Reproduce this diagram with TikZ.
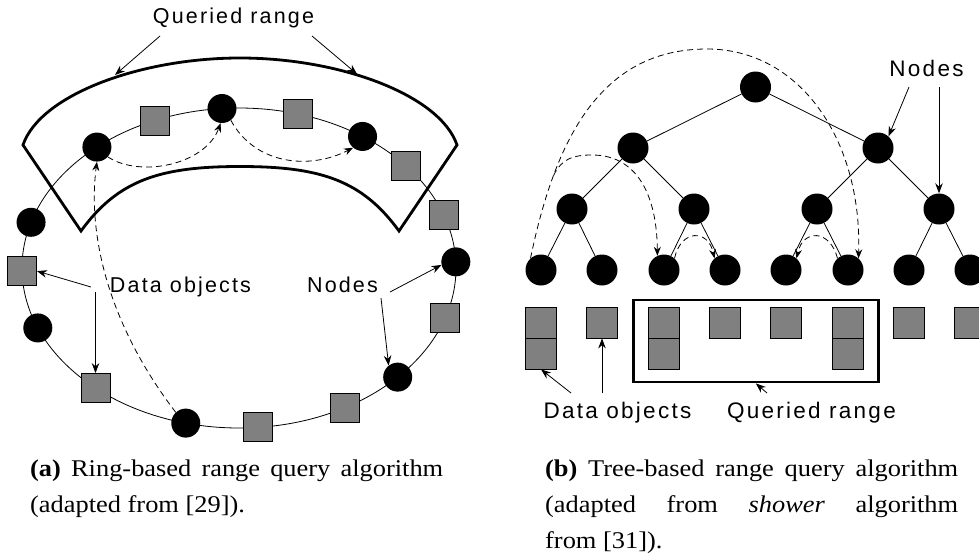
\documentclass[tikz,border=0pt]{standalone}
\usepackage{fontspec}
\usetikzlibrary{arrows.meta,calc}
\newfontfamily\lblfont[LetterSpace=10]{Liberation Sans}
\newfontfamily\capfont[FakeStretch=1.1]{Liberation Serif}
\definecolor{datagray}{HTML}{808080}

\begin{document}
\begin{tikzpicture}[x=1pt,y=-1pt,
  peerdot/.style={circle,fill=black,inner sep=0pt,minimum size=29pt},
  treedot/.style={peerdot,minimum size=31pt},
  databox/.style={rectangle,draw=black,line width=0.8pt,fill=datagray,inner sep=0pt,minimum size=29pt},
  treebox/.style={databox,minimum size=31pt},
  edgeline/.style={line width=0.8pt},
  callout/.style={line width=0.8pt,-{Stealth[length=10pt,width=7.5pt]}},
  hopline/.style={line width=0.8pt,dash pattern=on 6pt off 4pt,-{Stealth[length=9pt,width=7pt]}},
  rangeline/.style={line width=2.8pt,line join=miter},
  lbltext/.style={font=\lblfont\fontsize{21.5pt}{24pt}\selectfont,inner sep=0pt,anchor=base},
  treelbltext/.style={lbltext,font=\lblfont\fontsize{22.5pt}{25pt}\selectfont},
  captext/.style={font=\capfont\fontsize{24pt}{36pt}\selectfont,inner sep=0pt,anchor=base west},
]
\fill[white] (0,0) rectangle (979,557);
\useasboundingbox (0,0) rectangle (979,557);

% ---------------- (a) ring ----------------
\coordinate (rc) at (239,268);
\draw[edgeline] (rc) ellipse [x radius=217pt, y radius=160pt];

% queried range: band over the upper part of the ring
\coordinate (bo1) at (23,145);  \coordinate (bot) at (240,58);  \coordinate (bo2) at (457,145);
\coordinate (bi1) at (81,231);  \coordinate (bit) at (240,166.5); \coordinate (bi2) at (399,231);
\draw[rangeline] (bo1) .. controls (40,95) and (140,58) .. (bot)
  .. controls (340,58) and (440,95) .. (bo2)
  -- (bi2) .. controls (362,180) and (320,166.5) .. (bit)
  .. controls (160,166.5) and (118,180) .. (bi1) -- cycle;

% peers and data objects on the ring
\node[peerdot] (n1)  at ($(rc)+(94.5:217pt and 160pt)$) {};
\node[databox] (s2)  at ($(rc)+(112.8:217pt and 160pt)$) {};
\node[peerdot] (n3)  at ($(rc)+(130.9:217pt and 160pt)$) {};
\node[peerdot] (n4)  at ($(rc)+(163.4:217pt and 160pt)$) {};
\node[databox] (s5)  at ($(rc)+(181.1:217pt and 160pt)$) {};
\node[peerdot] (n6)  at ($(rc)+(-158:217pt and 160pt)$) {};
\node[databox] (s7)  at ($(rc)+(-131.4:217pt and 160pt)$) {};
\node[peerdot] (n8)  at ($(rc)+(-104.2:217pt and 160pt)$) {};
\node[databox] (s9)  at ($(rc)+(-85:217pt and 160pt)$) {};
\node[databox] (s10) at ($(rc)+(-60.8:217pt and 160pt)$) {};
\node[peerdot] (n11) at ($(rc)+(-43:217pt and 160pt)$) {};
\node[databox] (s12) at ($(rc)+(-18.2:217pt and 160pt)$) {};
\node[peerdot] (n13) at ($(rc)+(2.2:217pt and 160pt)$) {};
\node[databox] (s14) at ($(rc)+(19.4:217pt and 160pt)$) {};
\node[databox] (s15) at ($(rc)+(39.6:217pt and 160pt)$) {};
\node[peerdot] (n16) at ($(rc)+(55.3:217pt and 160pt)$) {};
\node[databox] (s17) at ($(rc)+(74.3:217pt and 160pt)$) {};

% query forwarding
\draw[hopline] (n8.133) .. controls (105,320) and (88,230) .. (n3.-90);
\draw[hopline] (n3.-42) .. controls (140,178) and (205,165) .. (n1.-95);
\draw[hopline] (n1.-53) .. controls (255,165) and (310,170) .. (n16.-130);

% labels
\node[lbltext] (qlabel) at (233.5,23) {Queried range};
\node[lbltext] (dlabel) at (180.5,292) {Data objects};
\node[lbltext] (nlabel) at (342.5,292) {Nodes};

\coordinate (qa1) at (160,36);  \coordinate (qa1e) at (115,75);
\coordinate (qa2) at (312,36);  \coordinate (qa2e) at (357,74);
\draw[callout] (qa1) -- (qa1e);
\draw[callout] (qa2) -- (qa2e);

\coordinate (da1) at (91,287);
\coordinate (da2) at (s7.north |- dlabel.base);
\draw[callout] (da1) -- (s5.east);
\draw[callout] (da2) -- (s7.north);

\coordinate (na1) at (390,292);
\coordinate (na2) at (381,298);
\draw[callout] (na1) -- (n13.192);
\draw[callout] (na2) -- (n11.128);

% ---------------- (b) tree ----------------
\node[treedot] (t0)  at (755.5,87) {};
\node[treedot] (t1a) at (633,148) {};
\node[treedot] (t1b) at (878,148) {};
\node[treedot] (t2a) at (572,209) {};
\node[treedot] (t2b) at (694,209) {};
\node[treedot] (t2c) at (817,209) {};
\node[treedot] (t2d) at (939,209) {};
\node[treedot] (l1) at (541,270) {};
\node[treedot] (l2) at (602,270) {};
\node[treedot] (l3) at (664,270) {};
\node[treedot] (l4) at (725,270) {};
\node[treedot] (l5) at (786,270) {};
\node[treedot] (l6) at (848,270) {};
\node[treedot] (l7) at (909,270) {};
\node[treedot] (l8) at (970,270) {};

\draw[edgeline] (t0) -- (t1a);  \draw[edgeline] (t0) -- (t1b);
\draw[edgeline] (t1a) -- (t2a); \draw[edgeline] (t1a) -- (t2b);
\draw[edgeline] (t1b) -- (t2c); \draw[edgeline] (t1b) -- (t2d);
\draw[edgeline] (t2a) -- (l1);  \draw[edgeline] (t2a) -- (l2);
\draw[edgeline] (t2b) -- (l3);  \draw[edgeline] (t2b) -- (l4);
\draw[edgeline] (t2c) -- (l5);  \draw[edgeline] (t2c) -- (l6);
\draw[edgeline] (t2d) -- (l7);  \draw[edgeline] (t2d) -- (l8);

% data objects under the leaves
\node[treebox] (q1a) at (541,322.5) {};
\node[treebox] (q1b) at (541,353.5) {};
\node[treebox] (q2)  at (602,322.5) {};
\node[treebox] (q3a) at (664,322.5) {};
\node[treebox] (q3b) at (664,353.5) {};
\node[treebox] (q4)  at (725,322.5) {};
\node[treebox] (q5)  at (786,322.5) {};
\node[treebox] (q6a) at (848,322.5) {};
\node[treebox] (q6b) at (848,353.5) {};
\node[treebox] (q7)  at (909,322.5) {};
\node[treebox] (q8)  at (970,322.5) {};

\node[draw,line width=2.8pt,inner sep=0pt,minimum width=245pt,minimum height=82pt] (qbox) at (755.8,341) {};

% shower forwarding
\coordinate (apex) at (707,49);
\coordinate (fork) at (553.5,175.6);
\coordinate (fapex) at (592,155);
\draw[hopline] (l1.132) .. controls (555,140) and (600,49) .. (apex)
  .. controls (800,49) and (862,140) .. (l6.48);
\draw[hopline] (fork) .. controls (562,158) and (574,155) .. (fapex)
  .. controls (640,155) and (657,200) .. (l3.115);
\draw[hopline] (l3.48) .. controls (681,229) and (708,229) .. (l4.132);
\draw[hopline] (l6.132) .. controls (830,229) and (803,229) .. (l5.48);

% labels
\node[treelbltext] (tnlabel) at (926.5,76) {Nodes};
\node[treelbltext] (tdlabel) at (617.5,418) {Data objects};
\node[treelbltext] (tqlabel) at (811.5,418) {Queried range};

\coordinate (tna1) at (909,87);
\coordinate (tna2) at (t2d.north |- tna1);
\draw[callout] (tna1) -- (t1b.48);
\draw[callout] (tna2) -- (t2d.north);

\coordinate (tda1) at (571,393);
\coordinate (tda2) at (q2.south |- tda1);
\draw[callout] (tda1) -- (q1b.south);
\draw[callout] (tda2) -- (q2.south);
\coordinate (tqa) at (767,393);
\draw[callout] (tqa) -- (qbox.south);

% ---------------- captions ----------------
\node[captext] (capa1) at (30,476) {\makebox[413pt][s]{\textbf{(a)} Ring-based range query algorithm}};
\node[captext] (capa2) at (30,512) {(adapted from [29]).};
\node[captext] (capb1) at (545,476) {\makebox[413pt][s]{\textbf{(b)} Tree-based range query algorithm}};
\node[captext] (capb2) at (545,512) {\makebox[413pt][s]{(adapted from \textit{shower} algorithm}};
\node[captext] (capb3) at (545,548) {from [31]).};
\end{tikzpicture}
\end{document}
